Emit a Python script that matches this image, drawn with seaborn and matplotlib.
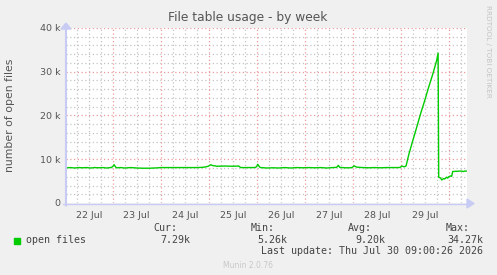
import matplotlib
matplotlib.use("Agg")
import matplotlib.pyplot as plt
import numpy as np
import seaborn as sns

# ---- data (hours since 22 Jul 00:00, open files) ----
hours = [1, 3, 5, 7, 9, 11, 13, 15, 17, 19, 21, 23, 24, 24.7, 25.5, 26, 28, 30, 33, 36,
         39, 42, 45, 47, 48, 51, 54, 57, 60, 63, 66, 69, 71, 72, 73, 74, 75, 76, 80, 84,
         87, 88, 91, 95, 96, 96.5, 97.5, 98, 101, 104, 107, 110, 113, 116, 119, 122, 125,
         128, 131, 134, 136, 136.8, 137.5, 140, 143, 144, 144.7, 145.5, 146, 149, 152, 155,
         158, 161, 164, 167, 168, 168.5, 169.5, 170, 170.7, 172, 174, 176, 178, 180, 182,
         184, 186, 186.7, 187, 188, 188.5, 189.5, 190, 191, 191.5, 192, 193, 193.5, 194,
         196, 198, 199.5, 200, 201]
open_files = [8050, 8100, 8000, 8100, 8050, 8100, 8000, 8100, 8050, 8100, 8000, 8100, 8300,
              8750, 8200, 8050, 8100, 8000, 8100, 8000, 7950, 7950, 8000, 8050, 8100, 8100,
              8100, 8100, 8100, 8100, 8100, 8150, 8300, 8450, 8750, 8550, 8500, 8400, 8450,
              8400, 8450, 8100, 8100, 8100, 8300, 8850, 8200, 8100, 8000, 8050, 8000, 8100,
              8000, 8100, 8050, 8100, 8050, 8100, 8000, 8100, 8150, 8600, 8150, 8050, 8050,
              8200, 8500, 8300, 8200, 8100, 8050, 8100, 8050, 8100, 8100, 8100, 8200, 8450,
              8300, 8300, 8500, 11000, 14200, 17300, 20500, 23400, 26500, 29400, 32600,
              34270, 5900, 5700, 5260, 5600, 5500, 5900, 5700, 6000, 6200, 6100, 7200, 7250,
              7300, 7200, 7300, 7290]

day_labels = ["22 Jul", "23 Jul", "24 Jul", "25 Jul", "26 Jul", "27 Jul", "28 Jul", "29 Jul"]
y_ticks = [0, 10000, 20000, 30000, 40000]
y_tick_labels = ["0", "10 k", "20 k", "30 k", "40 k"]
legend_name = "open files"
stat_names = ["Cur:", "Min:", "Avg:", "Max:"]
stat_values = ["7.29k", "5.26k", "9.20k", "34.27k"]

sns.set_style("white")
plt.rcParams["font.family"] = ["DejaVu Sans"]

W, H = 497, 275
fig = plt.figure(figsize=(W / 100, H / 100), dpi=100, facecolor="#F0F0F0")

def fx(px):
    return px / W

def fy(py):
    return 1 - py / H

left, right, top, bottom = 66, 467, 28, 203
ax = fig.add_axes([fx(left), fy(bottom), fx(right - left), (bottom - top) / H])
ax.set_facecolor("white")

x0 = (left - 64.7) / 2
x1 = (right - 64.7) / 2
ax.set_xlim(x0, x1)
ax.set_ylim(0, 40000)

# grid
minor_col = "#C4C4C4"
major_col = "#EC9C9C"
for h in np.arange(6, 202, 6):
    if h % 24 == 0:
        continue
    ax.axvline(h, color=minor_col, lw=0.9, ls=(0, (1, 2)), zorder=1)
for v in np.arange(2000, 40001, 2000):
    if v % 10000 == 0:
        continue
    ax.axhline(v, color=minor_col, lw=0.9, ls=(0, (1, 2)), zorder=1)
for h in np.arange(24, 202, 24):
    ax.axvline(h, color=major_col, lw=0.9, ls=(0, (1, 2)), zorder=1.5)
for v in [10000, 20000, 30000, 40000]:
    ax.axhline(v, color=major_col, lw=0.9, ls=(0, (1, 2)), zorder=1.5)

sns.lineplot(x=hours, y=open_files, ax=ax, color="#00CC00", linewidth=1.0, zorder=3)

for s in ax.spines.values():
    s.set_visible(False)

ax.set_xticks([12 + 24 * i for i in range(len(day_labels))])
ax.set_xticklabels(day_labels)
ax.set_yticks(y_ticks)
ax.set_yticklabels(y_tick_labels)
ax.tick_params(axis="both", length=0, labelsize=6.8, colors="#555555", pad=4)
ax.tick_params(axis="x", pad=6)
ax.set_xlabel("")
ax.set_ylabel("number of open files", fontsize=7.8, color="#555555", labelpad=18)

# axis lines with arrows
axis_col = "#C8CCF4"
fig.add_artist(matplotlib.patches.FancyArrow(fx(66), fy(206), 0, fy(23) - fy(206),
               width=0.0015, head_width=0.02, head_length=0.022, color=axis_col,
               length_includes_head=True, transform=fig.transFigure))
fig.add_artist(matplotlib.lines.Line2D([fx(63), fx(468)], [fy(203.5), fy(203.5)],
               color=axis_col, lw=1.0, transform=fig.transFigure))
fig.add_artist(matplotlib.patches.Polygon([[fx(467), fy(199)], [fx(467), fy(208)], [fx(474), fy(203.5)]],
               closed=True, color=axis_col, transform=fig.transFigure))

# title
fig.text(fx(248), fy(18), "File table usage - by week", ha="center", va="center",
         fontsize=8.8, color="#555555")

# right vertical credit
fig.text(fx(488), fy(5), "RRDTOOL / TOBI OETIKER", rotation=270, ha="center", va="top",
         fontsize=5.2, color="#C4C4C4")

# legend / stats
mono = "DejaVu Sans Mono"
tc = "#444444"
fig.patches.append(matplotlib.patches.Rectangle((fx(14), fy(243.5)), fx(6), 6 / H,
                   color="#00CC00", transform=fig.transFigure, figure=fig))
fig.text(fx(26), fy(240), legend_name, family=mono, fontsize=7.2, color=tc, va="center", ha="left")
stat_right = [177, 275, 372, 470]
val_right = [190, 287, 385, 483]
for i in range(4):
    fig.text(fx(stat_right[i]), fy(228), stat_names[i], family=mono, fontsize=7.2,
             color=tc, va="center", ha="right")
    fig.text(fx(val_right[i]), fy(240), stat_values[i], family=mono, fontsize=7.2,
             color=tc, va="center", ha="right")
fig.text(fx(483), fy(251.5), "Last update: Thu Jul 30 09:00:26 2026", family=mono,
         fontsize=7.2, color=tc, va="center", ha="right")
fig.text(fx(248), fy(265), "Munin 2.0.76", fontsize=5.5, color="#C8C8C8", ha="center", va="center")

fig.savefig("out.png", dpi=100, facecolor=fig.get_facecolor())
